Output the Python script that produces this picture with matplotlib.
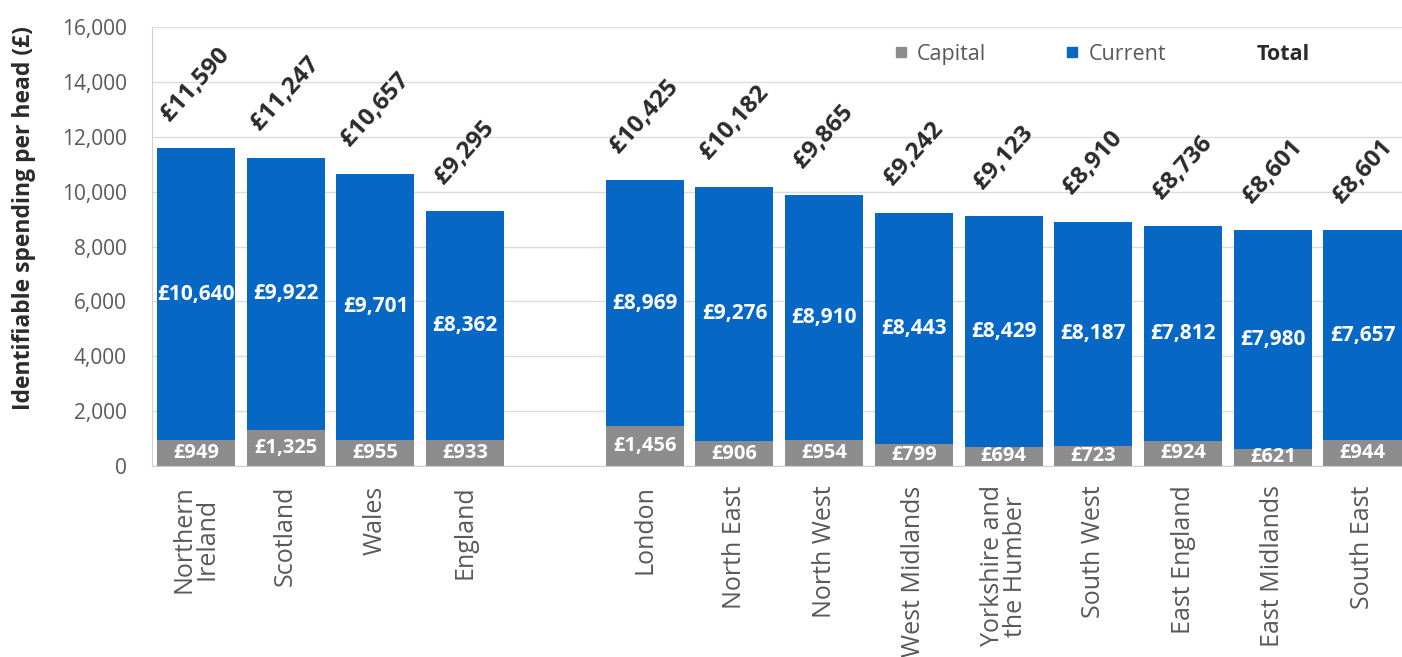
import matplotlib
matplotlib.use("Agg")
import matplotlib.pyplot as plt
from matplotlib.lines import Line2D
import numpy as np

plt.rcParams["font.family"] = ["Open Sans", "DejaVu Sans"]

REGIONS = ["Northern\nIreland", "Scotland", "Wales", "England",
           "London", "North East", "North West", "West Midlands",
           "Yorkshire and\nthe Humber", "South West", "East England",
           "East Midlands", "South East"]
CAPITAL = [949, 1325, 955, 933, 1456, 906, 954, 799, 694, 723, 924, 621, 944]
CURRENT = [10640, 9922, 9701, 8362, 8969, 9276, 8910, 8443, 8429, 8187, 7812,
           7980, 7657]
TOTAL = [11590, 11247, 10657, 9295, 10425, 10182, 9865, 9242, 9123, 8910,
         8736, 8601, 8601]
# one empty slot between the nations and the English regions
SLOTS = [0, 1, 2, 3, 5, 6, 7, 8, 9, 10, 11, 12, 13]

BLUE = "#0767c4"
GREY = "#8d8d8d"
TEXT = "#595959"
DARK = "#2b2b2b"


def money(v):
    return f"£{v:,}"


fig = plt.figure(figsize=(14.02, 6.57), dpi=100)
ax = fig.add_axes([0.1084, 0.2907, 0.8916, 0.668])

x = np.array(SLOTS)
ax.bar(x, CAPITAL, width=0.87, color=GREY, zorder=2)
ax.bar(x, CURRENT, width=0.87, bottom=CAPITAL, color=BLUE, zorder=2)

for xi, cap, cur, tot in zip(x, CAPITAL, CURRENT, TOTAL):
    ax.text(xi, cap / 2, money(cap), ha="center", va="center", color="white",
            fontsize=14.5, fontweight="bold", zorder=3)
    ax.text(xi, cap + cur / 2, money(cur), ha="center", va="center",
            color="white", fontsize=15, fontweight="bold", zorder=3)
    ax.annotate(money(tot), (xi, tot), xytext=(0, 16),
                textcoords="offset points", ha="center", va="bottom",
                rotation=48, fontsize=17.5, fontweight="bold",
                color=DARK, zorder=3)

ax.set_xlim(-0.49, 13.44)
ax.set_ylim(0, 16000)
ax.set_yticks(range(0, 16001, 2000))
ax.set_yticklabels([f"{v:,}" for v in range(0, 16001, 2000)])
ax.set_xticks(x)
ax.set_xticklabels(REGIONS, rotation=90, ha="center", va="top",
                   linespacing=0.9)
ax.tick_params(axis="both", length=0, colors=TEXT)
ax.tick_params(axis="x", pad=14, labelsize=18)
ax.tick_params(axis="y", pad=18, labelsize=15)
ax.grid(axis="y", color="#dcdcdc", linewidth=1, zorder=0)
for side in ("top", "right"):
    ax.spines[side].set_visible(False)
for side in ("left", "bottom"):
    ax.spines[side].set_color("#d0d0d0")
ax.set_ylabel("Identifiable spending per head (£)", fontsize=16.5,
              fontweight="bold", color=DARK)
ax.yaxis.set_label_coords(-0.093, 0.565)

handles = [Line2D([], [], marker="s", linestyle="none", color=GREY,
                  markersize=7.5),
           Line2D([], [], marker="s", linestyle="none", color=BLUE,
                  markersize=7.5)]
leg = ax.legend(handles, ["Capital", "Current"], ncol=2, frameon=False,
                loc="center left", bbox_to_anchor=(0.594, 0.938),
                fontsize=15.5, handlelength=0.6, handletextpad=0.45,
                columnspacing=3.7, borderpad=0, borderaxespad=0)
for t in leg.get_texts():
    t.set_color(TEXT)
ax.text(0.884, 0.938, "Total", transform=ax.transAxes, ha="left",
        va="center", fontsize=15.5, fontweight="bold", color=DARK)

fig.savefig("out.png", dpi=100)
